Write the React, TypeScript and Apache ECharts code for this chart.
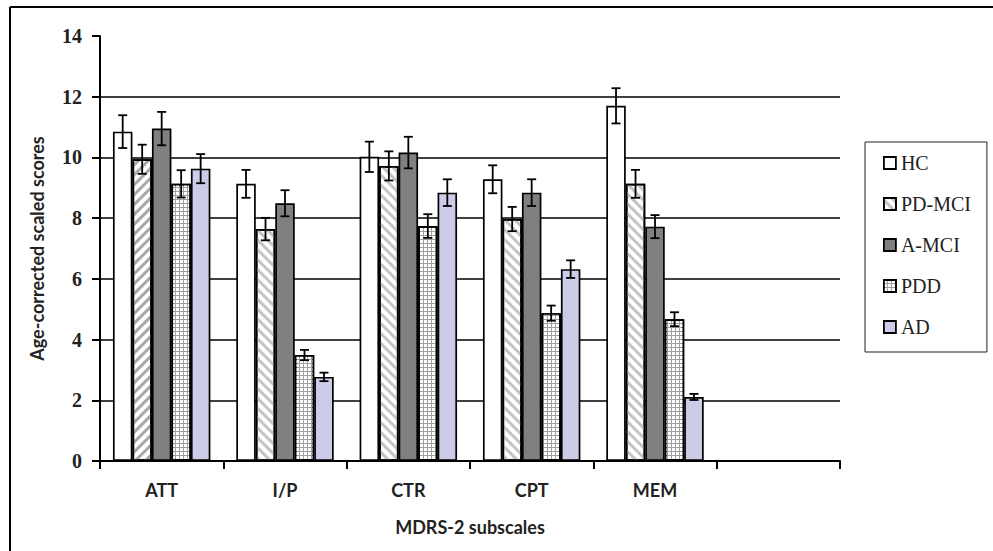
import React, { useEffect, useRef } from "react";
import * as echarts from "echarts";

const categories = ["ATT", "I/P", "CTR", "CPT", "MEM", ""];
const groupNames = ["HC", "PD-MCI", "A-MCI", "PDD", "AD"];

const hc = [10.85, 9.13, 10.02, 9.28, 11.7];
const hcErr = [0.54, 0.46, 0.5, 0.46, 0.58];
const pdmci = [9.94, 7.64, 9.72, 7.97, 9.13];
const pdmciErr = [0.48, 0.37, 0.48, 0.4, 0.46];
const amci = [10.95, 8.49, 10.16, 8.84, 7.72];
const amciErr = [0.55, 0.43, 0.52, 0.44, 0.38];
const pdd = [9.13, 3.49, 7.74, 4.87, 4.67];
const pddErr = [0.45, 0.17, 0.39, 0.25, 0.23];
const ad = [9.63, 2.77, 8.84, 6.32, 2.11];
const adErr = [0.48, 0.14, 0.44, 0.29, 0.1];

const yTicks = [0, 2, 4, 6, 8, 10, 12, 14];

const GAP = 0.21;

export default function App() {
  const ref = useRef<HTMLDivElement>(null);

  useEffect(() => {
    if (!ref.current) return;
    const chart = echarts.init(ref.current, undefined, { renderer: "svg" });

    const values = [hc, pdmci, amci, pdd, ad];
    const errs = [hcErr, pdmciErr, amciErr, pddErr, adErr];

    const hatch = {
      symbol: "rect",
      dashArrayX: [1, 0],
      dashArrayY: [3, 4],
      rotation: Math.PI / 4,
      color: "#c4c4c4",
    };
    const hatchAtt = {
      symbol: "rect",
      dashArrayX: [1, 0],
      dashArrayY: [3, 4],
      rotation: -Math.PI / 4,
      color: "#a8a8a8",
    };
    const grid = {
      symbol: "rect",
      symbolSize: 1,
      dashArrayX: [3, 1],
      dashArrayY: [3, 1],
      color: "#ffffff",
    };

    const styles: any[] = [
      { color: "#ffffff" },
      { color: "#ffffff", decal: hatch },
      { color: "#808080" },
      { color: "#a0a0a0", decal: grid },
      { color: "#ccccE8" },
    ];

    const barSeries = groupNames.map((name, si) => ({
      type: "bar",
      name,
      z: 2,
      barGap: "0%",
      barCategoryGap: GAP * 100 + "%",
      itemStyle: { ...styles[si], borderColor: "#000", borderWidth: 1.7 },
      data: values[si].map((v, ci) =>
        si === 1 && ci === 0
          ? { value: v, itemStyle: { decal: hatchAtt } }
          : v
      ),
    }));

    const errData: number[][] = [];
    values.forEach((arr, si) =>
      arr.forEach((v, ci) => errData.push([ci, v, errs[si][ci], si]))
    );

    const errSeries = {
      type: "custom",
      name: "err",
      z: 5,
      silent: true,
      data: errData,
      encode: { x: 0, y: 1 },
      renderItem: (params: any, api: any) => {
        const ci = api.value(0);
        const v = api.value(1);
        const e = api.value(2);
        const si = api.value(3);
        const band = api.size([1, 0])[0];
        const barW = (band * (1 - GAP)) / 5;
        const c = api.coord([ci, v]);
        const cx = c[0] + (si - 2) * barW;
        const top = api.coord([ci, v + e])[1];
        const bot = api.coord([ci, v - e])[1];
        const hw = 4.5;
        const st = { stroke: "#000", lineWidth: 1.8 };
        return {
          type: "group",
          children: [
            { type: "line", shape: { x1: cx, y1: top, x2: cx, y2: bot }, style: st },
            { type: "line", shape: { x1: cx - hw, y1: top, x2: cx + hw, y2: top }, style: st },
            { type: "line", shape: { x1: cx - hw, y1: bot, x2: cx + hw, y2: bot }, style: st },
          ],
        };
      },
    };

    chart.setOption({
      animation: false,
      backgroundColor: "#ffffff",
      grid: { left: 100, right: 153, top: 36, bottom: 90 },
      legend: {
        orient: "vertical",
        left: 865,
        top: 142,
        icon: "rect",
        itemWidth: 12,
        itemHeight: 12,
        itemGap: 21,
        padding: [11, 16, 15, 18],
        borderColor: "#222",
        borderWidth: 1,
        data: groupNames,
        selectedMode: false,
        itemStyle: { borderColor: "#000", borderWidth: 1.8 },
        textStyle: { fontFamily: "Liberation Serif", fontSize: 20, color: "#222" },
      },
      xAxis: {
        type: "category",
        data: categories,
        name: "MDRS-2 subscales",
        nameLocation: "middle",
        nameGap: 57,
        nameTextStyle: { fontFamily: "Lato", fontWeight: "bold", fontSize: 18, color: "#222" },
        axisLine: { lineStyle: { color: "#000", width: 2 } },
        axisTick: { show: true, length: 8, lineStyle: { color: "#000", width: 2 } },
        axisLabel: { margin: 20, fontFamily: "Lato", fontWeight: "bold", fontSize: 18, color: "#222" },
        splitLine: { show: false },
      },
      yAxis: {
        type: "value",
        min: 0,
        max: 14,
        interval: 2,
        name: "Age-corrected scaled scores",
        nameLocation: "middle",
        nameGap: 54,
        nameTextStyle: { fontFamily: "Lato", fontWeight: "bold", fontSize: 18, color: "#222" },
        axisLine: { show: true, lineStyle: { color: "#000", width: 2 } },
        axisTick: { show: true, length: 8, lineStyle: { color: "#000", width: 2 } },
        axisLabel: {
          margin: 18,
          fontFamily: "Liberation Serif",
          fontWeight: "bold",
          fontSize: 20,
          color: "#222",
          formatter: (v: number) => (yTicks.includes(v) ? String(v) : ""),
        },
        splitLine: {
          show: true,
          showMaxLine: false,
          lineStyle: { color: "#000", width: 1.6 },
        },
      },
      graphic: [
        { type: "line", shape: { x1: 10, y1: 7, x2: 993, y2: 7 }, style: { stroke: "#000", lineWidth: 2 } },
        { type: "line", shape: { x1: 10, y1: 7, x2: 10, y2: 551 }, style: { stroke: "#000", lineWidth: 2 } },
      ],
      series: [...barSeries, errSeries],
    });

    return () => chart.dispose();
  }, []);

  return (
    <div
      ref={ref}
      style={{ position: "fixed", left: 0, top: 0, width: 993, height: 551 }}
    />
  );
}
